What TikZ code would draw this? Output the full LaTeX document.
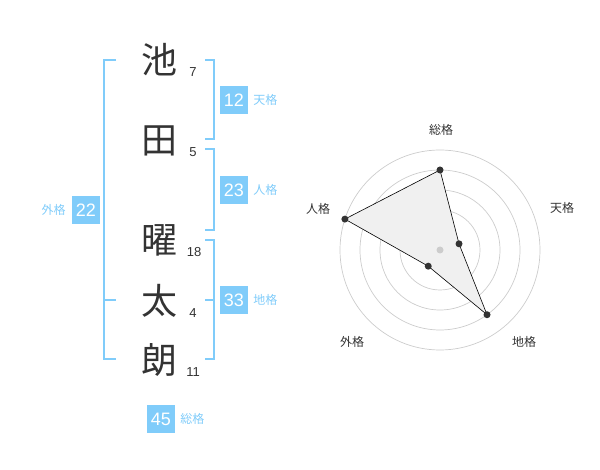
\documentclass[tikz,border=0pt]{standalone}
\usepackage{fontspec}
\setmainfont{Liberation Sans}
\newfontfamily\cjk{Noto Sans CJK JP}
\definecolor{kakublue}{RGB}{128,204,250}
\definecolor{inkgray}{RGB}{51,51,51}
\definecolor{ringgray}{RGB}{204,204,204}
\tikzset{
  kanji/.style={font=\cjk\fontsize{36}{36}\selectfont,text=inkgray,inner sep=0pt},
  strokes/.style={font=\fontsize{13}{13}\selectfont,text=inkgray,inner sep=0pt},
  kakubox/.style={fill=kakublue,text=white,minimum size=28pt,inner sep=0pt,font=\fontsize{18}{18}\selectfont},
  kakulabel/.style={font=\cjk\fontsize{12}{12}\selectfont,text=kakublue,inner sep=0pt},
  bracket/.style={draw=kakublue,line width=1.5pt},
  axislabel/.style={font=\cjk\fontsize{12}{12}\selectfont,text=inkgray,inner sep=0pt},
}
\begin{document}
\begin{tikzpicture}[x=1pt,y=-1pt]
        \useasboundingbox (0,0) rectangle (600,470);
        %% name characters and stroke counts
        \node[kanji] (c1) at (159,60) {池};
        \node[kanji] (c2) at (159,141) {田};
        \node[kanji] (c3) at (159,240) {曜};
        \node[kanji] (c4) at (159,301) {太};
        \node[kanji] (c5) at (159,360) {朗};
        \node[strokes] (s1) at (193,72) {7};
        \node[strokes] (s2) at (193,152) {5};
        \node[strokes] (s3) at (194,252) {18};
        \node[strokes] (s4) at (193,313) {4};
        \node[strokes] (s5) at (193,372) {11};
        %% brackets
        \draw[bracket] (116,60) -- (104,60) -- (104,359) -- (116,359);
        \draw[bracket] (104,300) -- (116,300);
        \draw[bracket] (205,60) -- (214,60) -- (214,139) -- (205,139);
        \draw[bracket] (205,149) -- (214,149) -- (214,230) -- (205,230);
        \draw[bracket] (205,240) -- (214,240) -- (214,359) -- (205,359);
        \draw[bracket] (205,300) -- (214,300);
        %% totals
        \node[kakubox] (ten) at (234,100) {12};
        \node[kakulabel,anchor=west] (tenl) at ([xshift=5pt]ten.east) {天格};
        \node[kakubox] (jin) at (234,190) {23};
        \node[kakulabel,anchor=west] (jinl) at ([xshift=5pt]jin.east) {人格};
        \node[kakubox] (chi) at (234,300) {33};
        \node[kakulabel,anchor=west] (chil) at ([xshift=5pt]chi.east) {地格};
        \node[kakubox] (gai) at (86,210) {22};
        \node[kakulabel,anchor=east] (gail) at ([xshift=-6pt]gai.west) {外格};
        \node[kakubox] (sou) at (161,419) {45};
        \node[kakulabel,anchor=west] (soul) at ([xshift=5pt]sou.east) {総格};
        %% radar chart
        \coordinate (ctr) at (440,250);
        \foreach \r in {20,40,60,80,100} \draw[ringgray,line width=0.7pt] (ctr) circle (\r pt);
        \coordinate (p1) at ([shift={(90:80pt)}]ctr);
        \coordinate (p2) at ([shift={(18:20pt)}]ctr);
        \coordinate (p3) at ([shift={(-54:80pt)}]ctr);
        \coordinate (p4) at ([shift={(-126:20pt)}]ctr);
        \coordinate (p5) at ([shift={(162:100pt)}]ctr);
        \filldraw[fill=black!6,draw=black,line width=0.6pt] (p1) -- (p2) -- (p3) -- (p4) -- (p5) -- cycle;
        \fill[ringgray] (ctr) circle (3.5pt);
        \foreach \p in {p1,p2,p3,p4,p5} \fill[inkgray] (\p) circle (3.5pt);
        \node[axislabel] (a1) at (441,130) {総格};
        \node[axislabel] (a2) at (562,208) {天格};
        \node[axislabel] (a3) at (524,342) {地格};
        \node[axislabel] (a4) at (352,342) {外格};
        \node[axislabel] (a5) at (318,209) {人格};
    \end{tikzpicture}
\end{document}
